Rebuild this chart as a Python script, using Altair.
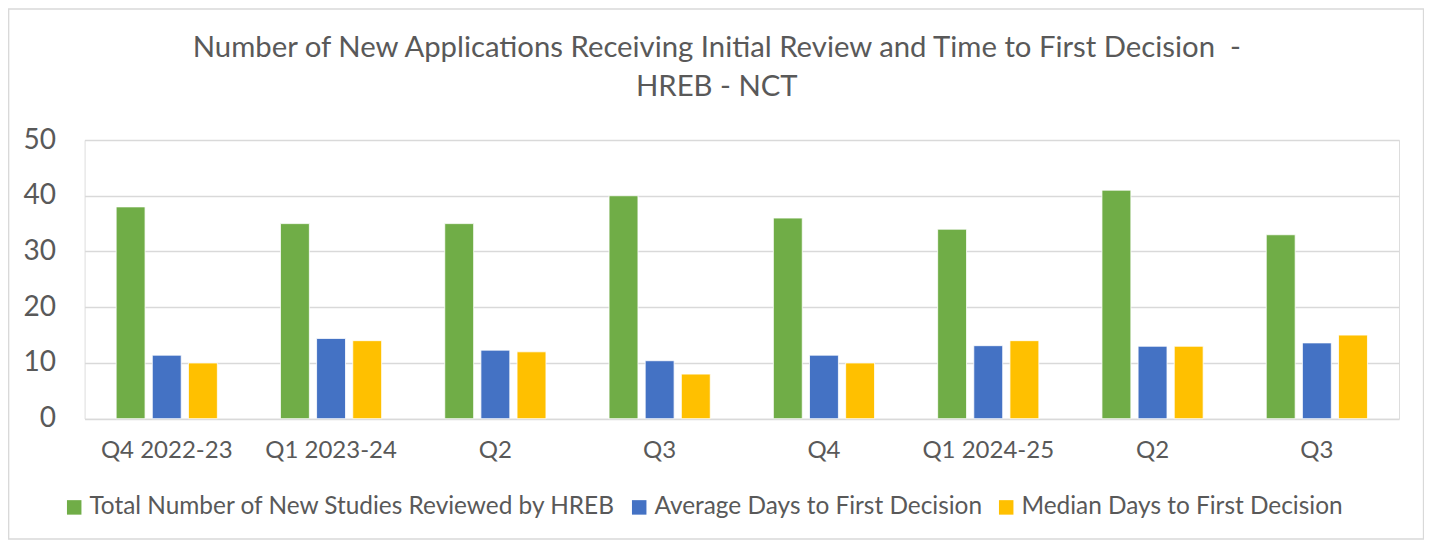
import altair as alt
import pandas as pd

quarters = ["Q4 2022-23", "Q1 2023-24", "Q2", "Q3", "Q4", "Q1 2024-25", "Q2", "Q3"]
series_names = [
    "Total Number of New Studies Reviewed by HREB",
    "Average Days to First Decision",
    "Median Days to First Decision",
]
total_reviewed = [38, 35, 35, 40, 36, 34, 41, 33]
avg_days = [11.4, 14.4, 12.3, 10.4, 11.4, 13.1, 13.0, 13.6]
median_days = [10, 14, 12, 8, 10, 14, 13, 15]
colors = ["#70AD47", "#4472C4", "#FFC000"]

rows = []
for i, q in enumerate(quarters):
    for s, vals in zip(series_names, [total_reviewed, avg_days, median_days]):
        rows.append({"key": str(i), "quarter": q, "series": s, "value": vals[i]})
df = pd.DataFrame(rows)

label_expr = "[" + ",".join("'" + q + "'" for q in quarters) + "][toNumber(datum.value)]"

FONT = "Lato"
TXT = "#595959"

W = 1314.4
H = 278.7

bars = alt.Chart(df).mark_bar(stroke="white", strokeWidth=0.8).encode(
    x=alt.X("key:N", sort=[str(i) for i in range(len(quarters))],
            scale=alt.Scale(paddingInner=0.384, paddingOuter=0.192),
            axis=alt.Axis(title=None, labelExpr=label_expr, labelAngle=0,
                          labelFontSize=24, labelColor=TXT, labelFont=FONT,
                          ticks=False, domain=False, labelPadding=20, grid=False)),
    xOffset=alt.XOffset("series:N", sort=series_names,
                        scale=alt.Scale(paddingInner=0.2, paddingOuter=0)),
    y=alt.Y("value:Q", scale=alt.Scale(domain=[0, 50], nice=False),
            axis=alt.Axis(title=None, values=[0, 10, 20, 30, 40, 50],
                          labelFontSize=28, labelColor=TXT, labelFont=FONT,
                          ticks=False, domain=False, labelPadding=29,
                          gridColor="#d9d9d9", gridWidth=1.4)),
    color=alt.Color("series:N", sort=series_names,
                    scale=alt.Scale(domain=series_names, range=colors),
                    legend=alt.Legend(title=None, orient="none", direction="horizontal",
                                      legendX=-22.6, legendY=355,
                                      symbolType="square", symbolSize=210,
                                      symbolStrokeWidth=0,
                                      labelFontSize=24.4, labelColor=TXT, labelFont=FONT,
                                      labelOffset=3, columnPadding=11,
                                      labelLimit=1000)),
)

border = alt.Chart(pd.DataFrame({"a": [0]})).mark_rect(
    fill=None, stroke="#d9d9d9", strokeWidth=1.5
).encode(
    x=alt.value(-76),
    x2=alt.value(1339),
    y=alt.value(-131),
    y2=alt.value(399),
)

chart = alt.layer(border, bars).properties(
    width=W,
    height=H,
    title=alt.TitleParams(
        text=["Number of New Applications Receiving Initial Review and Time to First Decision\u00a0\u00a0-",
              "HREB - NCT"],
        fontSize=29.3, font=FONT, fontWeight="normal", color=TXT,
        anchor="middle", dx=-25, offset=0, dy=94, lineHeight=39,
    ),
    autosize=alt.AutoSizeParams(type="none"),
    padding={"left": 76.6, "top": 132, "right": 25, "bottom": 121.3},
).configure_view(stroke=None).configure(background="white")

chart.save("out.html", embed_options={"renderer": "svg", "actions": False})
